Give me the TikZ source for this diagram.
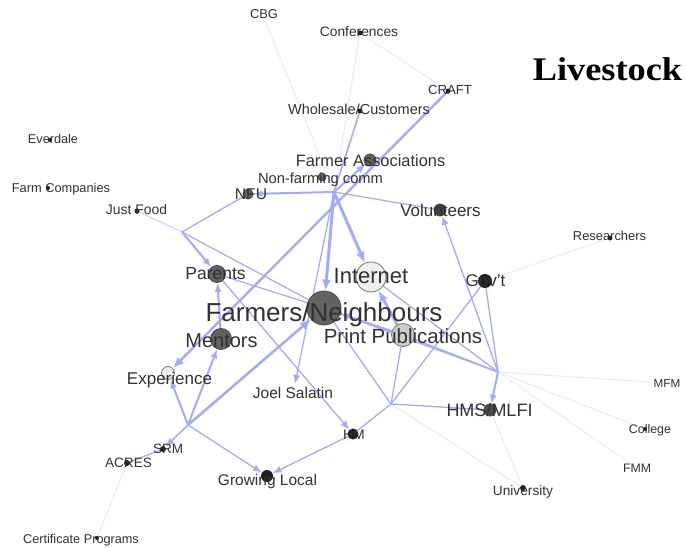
\documentclass[tikz,border=0pt]{standalone}
\usepackage{fontspec}
\setmainfont{Liberation Sans}
\newfontfamily\titlefont{Liberation Serif}
\usetikzlibrary{arrows.meta}

\definecolor{edge}{RGB}{164,172,242}
\definecolor{faint}{RGB}{234,235,250}
\definecolor{labelgray}{RGB}{50,50,50}
\definecolor{darkdisc}{RGB}{98,98,98}
\definecolor{darkline}{RGB}{70,70,70}
\definecolor{lightdisc}{RGB}{238,238,238}
\definecolor{midline}{RGB}{120,120,120}
\definecolor{paledisc}{RGB}{205,205,205}

\pgfdeclarelayer{backdrop}
\pgfdeclarelayer{edgelayer}
\pgfsetlayers{backdrop,edgelayer,main}

\tikzset{
  lab/.style={text=labelgray, inner sep=0pt, anchor=base,
              font=\fontsize{#1}{#1}\selectfont},
  disc/.style={circle, inner sep=0pt, minimum size=#1},
  blackdot/.style={disc=#1, fill=black!88},
  greydot/.style={disc=#1, fill=darkdisc, draw=darkline, line width=0.8pt},
  paledot/.style={disc=#1, fill=lightdisc, draw=midline, line width=0.8pt},
  link/.style={draw=edge, line width=#1},
  weak/.style={draw=faint, line width=1pt},
  tip/.style={-{Latex[length=9pt,width=7pt]}},
  bigtip/.style={-{Latex[length=11pt,width=9pt]}},
}

\begin{document}
\begin{tikzpicture}[x=1pt, y=-1pt]
\useasboundingbox (0,0) rectangle (686,548);
\begin{pgfonlayer}{backdrop}
\fill[white] (0,0) rectangle (686,548);
\end{pgfonlayer}

% ---------- vertices ----------
\node[greydot=34] (farm) at (324,308) {};
\node[paledot=30] (inet) at (371,277) {};
\node[disc=23, fill=paledisc, draw=midline, line width=0.8pt] (print) at (403,335) {};
\node[greydot=17] (parents) at (217,274) {};
\node[greydot=21] (mentors) at (221,339) {};
\node[paledot=13] (exper) at (168,373) {};
\node[blackdot=14] (govt) at (485,281) {};
\node[greydot=12, fill=black!75] (volun) at (440,210) {};
\node[greydot=12] (fassoc) at (370,160) {};
\node[greydot=12, fill=black!70] (hms) at (490,410) {};
\node[blackdot=12] (grow) at (267,476) {};
\node[blackdot=11] (hm) at (353,434) {};
\node[greydot=10] (nfu) at (248,194) {};
\node[greydot=8] (nonfarm) at (322,177) {};
\node[blackdot=5] (conf) at (360,33) {};
\node[blackdot=5] (craft) at (448,91) {};
\node[blackdot=5] (whole) at (360,111) {};
\node[blackdot=5] (justfood) at (137,211) {};
\node[blackdot=5] (research) at (610,238) {};
\node[blackdot=6] (srm) at (163,449) {};
\node[blackdot=6] (acres) at (127,463) {};
\node[blackdot=6] (univ) at (523,488) {};
\node[blackdot=4] (farmco) at (48,188) {};
\node[blackdot=4] (everdale) at (50,140) {};
\node[blackdot=4] (cert) at (97,538) {};
\node[blackdot=4] (college) at (645,429) {};
\coordinate (cbg) at (264,18);
\coordinate (mfm) at (650,382);
\coordinate (fmm) at (628,462);
\coordinate (joel) at (295,384);

% bend points where several ties meet
\coordinate (hub) at (334,192);
\coordinate (fork) at (182,232);
\coordinate (knot) at (188,425);
\coordinate (low) at (391,404);
\coordinate (east) at (498,372);

% ---------- ties ----------
\begin{pgfonlayer}{edgelayer}
% very light ties
\draw[weak] (cbg) -- (hub);
\draw[weak] (conf) -- (hub);
\draw[weak] (conf) -- (craft);
\draw[weak] (research) -- (govt);
\draw[weak] (east) -- (mfm);
\draw[weak] (east) -- (college);
\draw[weak] (east) -- (fmm);
\draw[weak] (hms) -- (univ);
\draw[weak] (low) -- (univ);
\draw[weak] (acres) -- (cert);

% upper part
\draw[link=1.6] (whole) -- (hub);
\draw[link=2.4, bigtip] (craft) -- (exper);
\draw[link=2, tip] (hub) -- (fassoc);
\draw[link=2, tip] (hub) -- (nfu);
\draw[link=1.2] (hub) -- (volun);
\draw[link=3, bigtip] (hub) -- (inet);
\draw[link=3, bigtip] (hub) -- (farm);
\draw[link=1.3, tip] (hub) -- (joel);
\draw[link=1.3] (nfu) -- (fork);
\draw[link=0.8, dash pattern=on 2pt off 1pt] (justfood) -- (fork);
\draw[link=2, tip] (fork) -- (parents);
\draw[link=1.2] (fork) -- (farm);

% left part
\draw[link=1.2] (parents) -- (farm);
\draw[link=2, tip] (mentors) -- (parents);
\draw[link=1.3, tip] (parents) -- (hm);
\draw[link=2, tip] (knot) -- (mentors);
\draw[link=2, tip] (knot) -- (exper);
\draw[link=1.6, tip] (knot) -- (srm);
\draw[link=1.2] (srm) -- (acres);
\draw[link=2.6, bigtip] (knot) -- (farm);
\draw[link=1.3, tip] (knot) -- (grow);
\draw[link=1.3, tip] (hm) -- (grow);
\draw[link=1.3] (low) -- (hm);

% centre and right part
\draw[link=3, bigtip] (print) -- (inet);
\draw[link=2, tip] (print) -- (farm);
\draw[link=1.3] (low) -- (farm);
\draw[link=1.3] (low) -- (print);
\draw[link=1.3] (low) -- (govt);
\draw[link=1.3] (low) -- (hms);
\draw[link=1.3] (inet) -- (east);
\draw[link=1.3] (farm) -- (east);
\draw[link=1.6] (print) -- (east);
\draw[link=1.3] (govt) -- (east);
\draw[link=1.3, tip] (east) -- (volun);
\draw[link=2, tip] (east) -- (hms);
\end{pgfonlayer}

% ---------- labels ----------
\node[lab=12.9] (tcbg) at (264,19) {CBG};
\node[lab=13.8] (tconf) at (359,37) {Conferences};
\node[lab=13.2] (tcraft) at (450,95) {CRAFT};
\node[lab=14.5] (twhole) at (359,115) {Wholesale/Customers};
\node[lab=16.4] (tfassoc) at (370.5,167) {Farmer Associations};
\node[lab=14.7] (tnonfarm) at (320.5,184) {Non-farming comm};
\node[lab=15.6] (tnfu) at (251,200) {NFU};
\node[lab=17] (tvolun) at (440.5,217) {Volunteers};
\node[lab=12.7] (teverdale) at (53,144) {Everdale};
\node[lab=12.8] (tfarmco) at (61,193) {Farm Companies};
\node[lab=13.9] (tjustfood) at (136.5,215) {Just Food};
\node[lab=12.9] (tresearch) at (609.5,241) {Researchers};
\node[lab=17.5] (tparents) at (215.5,280) {Parents};
\node[lab=22] (tinet) at (371,284) {Internet};
\node[lab=26] (tfarm) at (324,322) {Farmers/Neighbours};
\node[lab=20.5] (tprint) at (403,344) {Print Publications};
\node[lab=17] (tgovt) at (485.5,287) {Gov't};
\node[lab=20] (tmentors) at (221.5,348) {Mentors};
\node[lab=17] (texper) at (169.5,384) {Experience};
\node[lab=15.5] (tjoel) at (293,398) {Joel Salatin};
\node[lab=13.5] (tsrm) at (168,453) {SRM};
\node[lab=13.6] (tacres) at (128.5,467) {ACRES};
\node[lab=15.5] (tgrow) at (267.5,485) {Growing Local};
\node[lab=14] (thm) at (354,439) {HM};
\node[lab=18] (thms) at (489.5,416) {HMS/MLFI};
\node[lab=13.7] (tuniv) at (523,495) {University};
\node[lab=11.7] (tmfm) at (667,387) {MFM};
\node[lab=12.4] (tcollege) at (650,433) {College};
\node[lab=12.3] (tfmm) at (637,472) {FMM};
\node[lab=12.7] (tcert) at (81,543) {Certificate Programs};

\node[anchor=base, inner sep=0pt, text=black] (title) at (607.5,81)
  {\titlefont\bfseries\fontsize{33}{33}\selectfont\scalebox{1.1}[1]{Livestock}};
\end{tikzpicture}
\end{document}
